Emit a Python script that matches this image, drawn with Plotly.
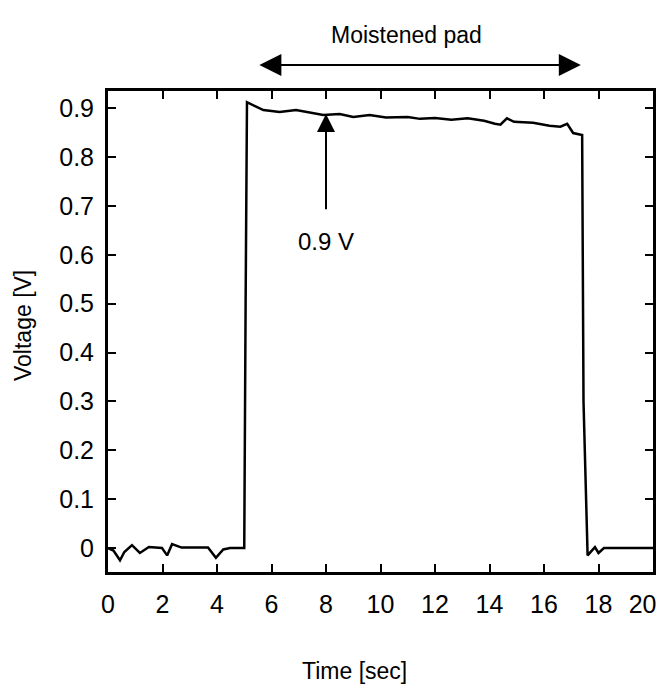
import plotly.graph_objects as go

time_s = [0.0, 0.2, 0.44, 0.6, 0.88, 1.17, 1.5, 1.98, 2.17, 2.35, 2.7, 3.2, 3.67, 3.96, 4.23, 4.48, 5.0,
          5.05, 5.1, 5.7, 6.3, 6.9, 7.9, 8.5, 9.0, 9.6, 10.2, 11.0, 11.45, 12.0, 12.6, 13.2, 13.8,
          14.2, 14.4, 14.64, 14.9, 15.6, 16.2, 16.6, 16.85, 17.07, 17.4,
          17.45, 17.6, 17.87, 18.0, 18.2, 19.0, 20.0]
voltage = [0.0, -0.005, -0.025, -0.008, 0.006, -0.01, 0.002, 0.0, -0.015, 0.008, 0.001, 0.001, 0.001, -0.02, -0.003, 0.0, 0.0,
           0.5, 0.912, 0.896, 0.892, 0.896, 0.886, 0.888, 0.882, 0.886, 0.881, 0.882, 0.878, 0.88, 0.876, 0.879, 0.874,
           0.868, 0.866, 0.879, 0.872, 0.870, 0.864, 0.862, 0.868, 0.849, 0.845,
           0.3, -0.015, 0.002, -0.01, 0.0, 0.0, 0.0]

x_ticks = list(range(0, 21, 2))
# trailing no-break spaces keep the last label inside the figure edge
x_tick_text = [str(v) for v in x_ticks[:-1]] + ["20\u00a0\u00a0\u00a0"]
y_ticks = [0, 0.1, 0.2, 0.3, 0.4, 0.5, 0.6, 0.7, 0.8, 0.9]
y_tick_text = ["0", "0.1", "0.2", "0.3", "0.4", "0.5", "0.6", "0.7", "0.8", "0.9"]

FONT = "Liberation Sans Narrow, Liberation Sans, Arial"
OFF = 8  # default page body margin
W, H = 665 - 2 * OFF, 694 - 2 * OFF
L, T = 108 - OFF, 91 - OFF
R = W - (653 - OFF)
B = H - (572 - OFF)
PW, PH = W - L - R, H - T - B


def px_x(px):
    return (px - OFF - L) / PW


def px_y(py):
    return (H - B - (py - OFF)) / PH


fig = go.Figure()
fig.add_trace(go.Scatter(x=time_s, y=voltage, mode="lines",
                         line=dict(color="black", width=2.5), showlegend=False))

# 0.9 V arrow
fig.add_annotation(x=8, y=0.888, ax=8, ay=0.69, xref="x", yref="y", axref="x", ayref="y",
                   text="", showarrow=True, arrowhead=2, arrowsize=1.8, arrowwidth=2, arrowcolor="black")
fig.add_annotation(x=8, y=0.628, xref="x", yref="y", text="0.9 V", showarrow=False,
                   font=dict(family=FONT, size=24, color="black"))

# Moistened pad double arrow
fig.add_annotation(x=17.35, y=px_y(65), ax=5.5, ay=0, xref="x", yref="paper", axref="x", ayref="pixel",
                   text="", showarrow=True, arrowhead=2, arrowside="end+start", arrowsize=2.2,
                   arrowwidth=2, arrowcolor="black")
fig.add_annotation(x=px_x(406), y=px_y(35), xref="paper", yref="paper", xanchor="center", yanchor="middle",
                   text="Moistened pad", showarrow=False, font=dict(family=FONT, size=23, color="black"))

# axis titles
fig.add_annotation(x=px_x(354), y=px_y(671), xref="paper", yref="paper", xanchor="center", yanchor="middle",
                   text="Time [sec]", showarrow=False, font=dict(family=FONT, size=23, color="black"))
fig.add_annotation(x=px_x(23), y=px_y(326), xref="paper", yref="paper", xanchor="center", yanchor="middle",
                   text="Voltage [V]", textangle=-90, showarrow=False,
                   font=dict(family=FONT, size=23, color="black"))

fig.update_layout(
    width=W, height=H,
    margin=dict(l=L, r=R, t=T, b=B),
    paper_bgcolor="white", plot_bgcolor="white",
    font=dict(family=FONT, size=24, color="black"),
)

fig.update_xaxes(range=[0, 20], tickvals=x_ticks, ticktext=x_tick_text, ticks="inside", ticklen=8, tickwidth=2,
                 tickcolor="black", mirror="ticks", showline=True, linecolor="black", linewidth=3,
                 showgrid=False, zeroline=False, automargin=False, ticklabeloverflow="allow",
                 ticklabelstandoff=8, tickfont=dict(family=FONT, size=25))
fig.update_yaxes(range=[-0.049, 0.935], tickvals=y_ticks, ticktext=y_tick_text, ticks="inside", ticklen=8,
                 tickwidth=2, tickcolor="black", mirror="ticks", showline=True, linecolor="black",
                 linewidth=3, showgrid=False, zeroline=False, automargin=False,
                 ticklabeloverflow="allow", ticklabelstandoff=6, tickfont=dict(family=FONT, size=25))

fig.write_html("out.html")
